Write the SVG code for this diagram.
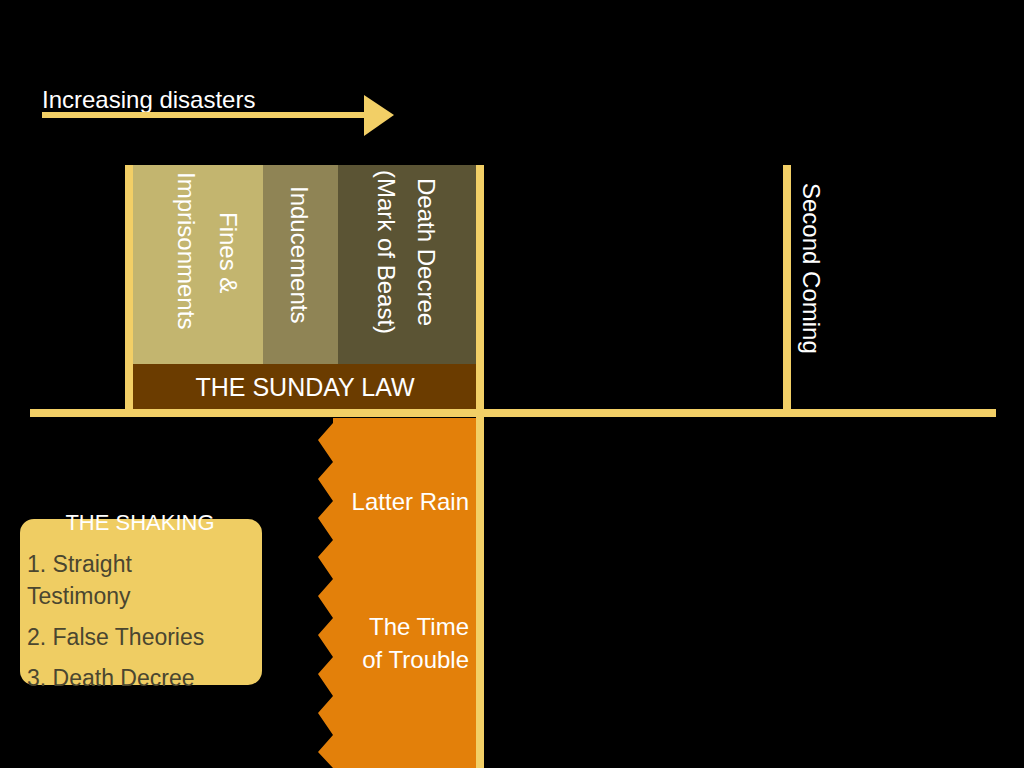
<svg xmlns="http://www.w3.org/2000/svg" width="1024" height="768" viewBox="0 0 1024 768">
<style>
.y{fill:#f2cf66}
.w{fill:#fff;font-family:"Liberation Sans",Arial,sans-serif}
.d{fill:#4a4630;font-family:"Liberation Sans",Arial,sans-serif;font-size:23px}
</style>
<rect width="1024" height="768" fill="#000"/>
<g id="arrow">
<text class="w" x="42" y="108" font-size="24">Increasing disasters</text>
<rect class="y" x="42" y="112" width="326" height="6"/>
<polygon class="y" points="364,95 394,115 364,136"/>
</g>
<g id="columns">
<rect x="133" y="165" width="130" height="200" fill="#c3b56f"/>
<rect x="263" y="165" width="75" height="200" fill="#8f8455"/>
<rect x="338" y="165" width="138" height="200" fill="#5b5434"/>
<text class="w" font-size="24" transform="translate(220,212) rotate(90)">Fines &amp;</text>
<text class="w" font-size="24" transform="translate(178,172) rotate(90)">Imprisonments</text>
<text class="w" font-size="24" transform="translate(291,186) rotate(90)">Inducements</text>
<text class="w" font-size="24" transform="translate(418,178) rotate(90)">Death Decree</text>
<text class="w" font-size="24" transform="translate(378,170) rotate(90)">(Mark of Beast)</text>
</g>
<g id="sunday">
<rect x="133" y="364" width="343" height="46" fill="#6b3c00"/>
<text class="w" x="305" y="396" font-size="25" text-anchor="middle">THE SUNDAY LAW</text>
</g>
<g id="trouble">
<polygon fill="#e3800a" points="476,418 476,768 333,768 318,752 333,735 318,713 333,696 318,674 333,657 318,635 333,618 318,596 333,579 318,557 333,540 318,518 333,501 318,479 333,462 318,440 333,423 333,418"/>
<text class="w" x="469" y="510" font-size="24" text-anchor="end">Latter Rain</text>
<text class="w" x="469" y="635" font-size="24" text-anchor="end">The Time</text>
<text class="w" x="469" y="668" font-size="24" text-anchor="end">of Trouble</text>
</g>
<g id="lines">
<rect class="y" x="30" y="409" width="966" height="8"/>
<rect class="y" x="125" y="165" width="8" height="248"/>
<rect class="y" x="476" y="165" width="8" height="603"/>
<rect class="y" x="783" y="165" width="8" height="248"/>
</g>
<g id="second">
<text class="w" font-size="24" transform="translate(803,183) rotate(90)">Second Coming</text>
</g>
<g id="shaking">
<rect x="20" y="519" width="242" height="166" rx="14" fill="#efcd63"/>
<text class="w" x="140" y="530" font-size="22" text-anchor="middle">THE SHAKING</text>
<text class="d" x="27" y="572">1. Straight</text>
<text class="d" x="27" y="604">Testimony</text>
<text class="d" x="27" y="645">2. False Theories</text>
<text class="d" x="27" y="686">3. Death Decree</text>
</g>
</svg>
